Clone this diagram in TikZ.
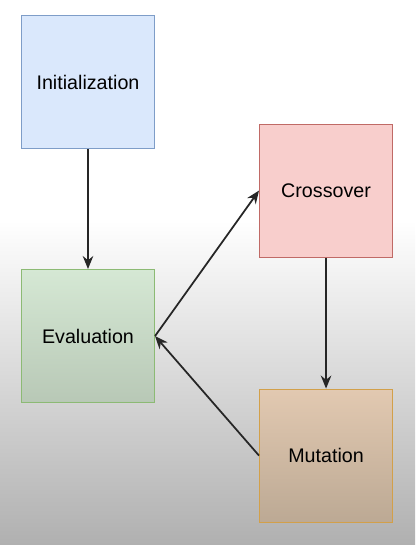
\documentclass[tikz,border=0pt]{standalone}
\usepackage{fontspec}
\setmainfont{Liberation Sans}
\usepackage{xcolor}
\usepackage{tikz}
\usetikzlibrary{positioning, arrows.meta}

\definecolor{initfill}{HTML}{DAE8FC}
\definecolor{initline}{HTML}{7E9DC8}
\definecolor{evaltop}{HTML}{D5E8D4}
\definecolor{evalbot}{HTML}{B8C8B6}
\definecolor{evalline}{HTML}{8CBA74}
\definecolor{crossfill}{HTML}{F8CECC}
\definecolor{crossline}{HTML}{C06A66}
\definecolor{mutatop}{HTML}{E2C9B1}
\definecolor{mutabot}{HTML}{BCA994}
\definecolor{mutaline}{HTML}{D2A04A}
\definecolor{bgbot}{HTML}{B0B0B0}

\begin{document}
\begin{tikzpicture}[
    node distance=2.4cm,
    box/.style={draw, line width=0.6pt, minimum size=2.66cm, align=center, font=\fontsize{11.2}{13}\selectfont},
    arrow/.style={-{Stealth[length=2.6mm, width=2.1mm]}, line width=1pt, black!85},
]
    % background
    \fill[white] (0,0) rectangle (8.3,-10.9);
    \shade[top color=white, bottom color=bgbot] (0,-4.4) rectangle (8.3,-10.9);
    \useasboundingbox (0,0) rectangle (8.3,-10.9);

    \node[box, fill=initfill, draw=initline] (init) at (1.76,-1.64) {Initialization};
    \node[box, top color=evaltop, bottom color=evalbot, draw=evalline, below=of init] (eval) {Evaluation};
    \node[box, fill=crossfill, draw=crossline, right=2.08cm of eval, yshift=2.91cm] (cross) {Crossover};
    \node[box, top color=mutatop, bottom color=mutabot, draw=mutaline, below=2.62cm of cross] (muta) {Mutation};

    \draw[arrow] (init) -- (eval);
    \draw[arrow] (eval.east) -- (cross.west);
    \draw[arrow] (cross) -- (muta);
    \draw[arrow] (muta.west) -- (eval.east);
\end{tikzpicture}
\end{document}
